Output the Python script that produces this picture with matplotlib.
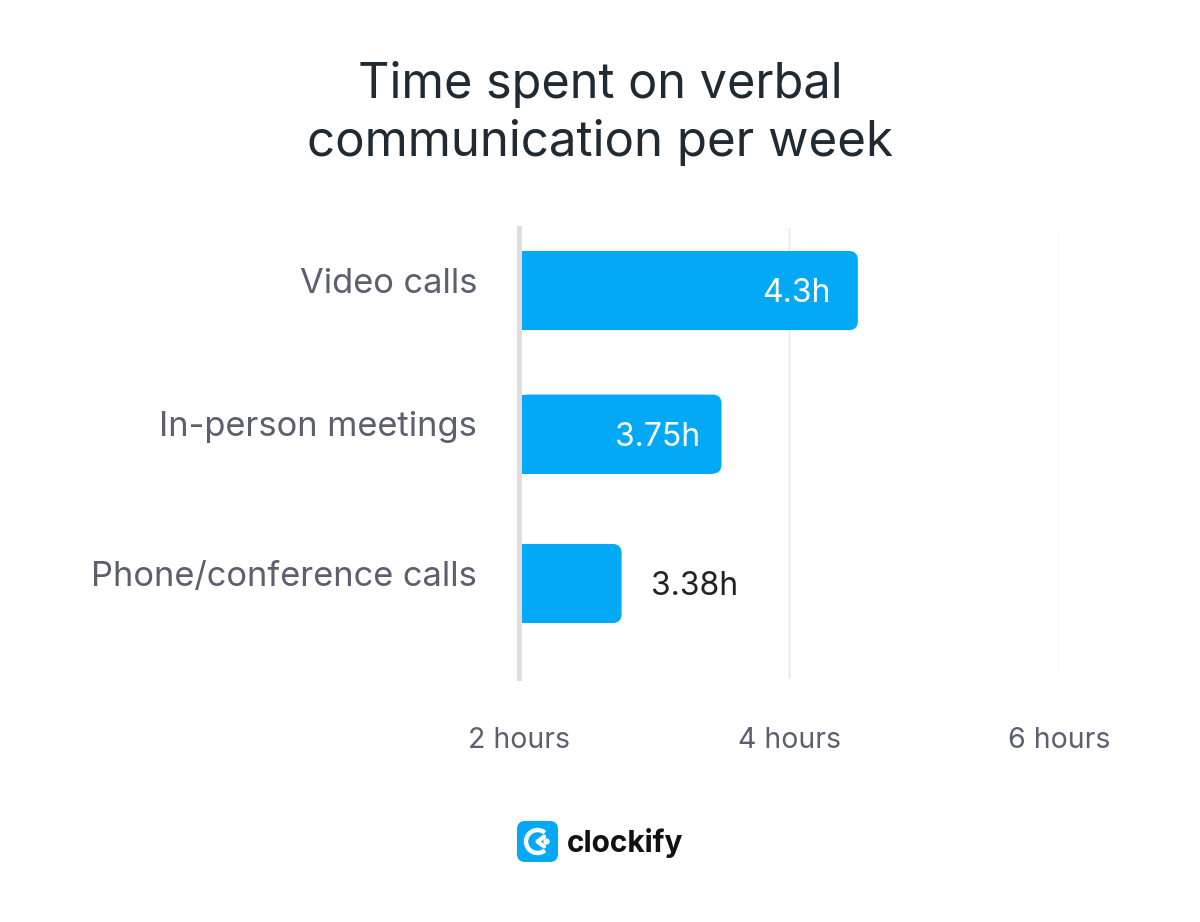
import matplotlib
matplotlib.use("Agg")
import matplotlib.pyplot as plt
from matplotlib.patches import FancyBboxPatch, Arc, Circle

plt.rcParams['font.family'] = ['Inter', 'DejaVu Sans']

# data
categories = ["Video calls", "In-person meetings", "Phone/conference calls"]
value_labels = ["4.3h", "3.75h", "3.38h"]
bar_ends = [4.51, 3.50, 2.76]   # where the bars end on the hour axis (as drawn)
tick_vals = [2, 4, 6]
tick_labels = ["2 hours", "4 hours", "6 hours"]

BLUE = "#03a9f4"
GREY_TXT = "#5d5e6e"
DARK = "#1f2a33"

W, H = 1200, 922
fig = plt.figure(figsize=(W / 100, H / 100), dpi=100)

# title
fig.text(0.5, 1 - 98 / H, "Time spent on verbal", ha="center", va="baseline",
         fontsize=35, color=DARK)
fig.text(0.5, 1 - 156 / H, "communication per week", ha="center", va="baseline",
         fontsize=35.5, color=DARK)

ax = fig.add_axes([519 / W, 1 - 678 / H, 540 / W, 450 / H])
ax.set_xlim(2, 6)
ax.set_ylim(2.645, -0.427)

ypos = [0, 0.98, 2.0]
bar_h = 0.54
r = 9 / 135.0           # corner radius in x units
aspect = 135.0 / 146.5  # y units per px / x units per px

for x in tick_vals[1:]:
    ax.axvline(x, color="#e4e4e4", lw=1, zorder=0)

for y, v, lab in zip(ypos, bar_ends, value_labels):
    ax.barh(y, v - 2 - r, left=2, height=bar_h, color=BLUE, zorder=2)
    ax.add_patch(FancyBboxPatch((2, y - bar_h / 2), v - 2, bar_h,
                                boxstyle=f"round,pad=0,rounding_size={r}",
                                mutation_aspect=aspect, fc=BLUE, ec="none",
                                zorder=2))
    if v - 2 > 1.0:
        off = 0.2 if v - 2 > 2 else 0.16
        ax.text(v - off, y + 0.02, lab, ha="right", va="center",
                fontsize=23, color="white", zorder=3)
    else:
        ax.text(v + 0.22, y + 0.02, lab, ha="left", va="center",
                fontsize=23, color="#222222", zorder=3)

# category labels sit a little above the bar centres
ax.set_yticks([y - 0.07 for y in ypos])
ax.set_yticklabels(categories, fontsize=24.8, color=GREY_TXT)
ax.tick_params(axis="y", length=0, pad=30)

ax.set_xticks(tick_vals)
ax.set_xticklabels(tick_labels, fontsize=20.5, color=GREY_TXT)
ax.tick_params(axis="x", length=0, pad=35)

for s in ["top", "right", "bottom"]:
    ax.spines[s].set_visible(False)
ax.spines["left"].set_color("#dedede")
ax.spines["left"].set_linewidth(3.6)
ax.spines["left"].set_zorder(4)

# logo
lax = fig.add_axes([517 / W, 1 - 862 / H, 41 / W, 41 / H])
lax.set_xlim(0, 1)
lax.set_ylim(0, 1)
lax.axis("off")
lax.add_patch(FancyBboxPatch((0, 0), 1, 1, boxstyle="round,pad=0,rounding_size=0.2",
                             fc=BLUE, ec="none"))
lax.add_patch(Arc((0.5, 0.5), 0.56, 0.56, theta1=50, theta2=310, color="white", lw=3.2))
lax.plot([0.66, 0.5, 0.66], [0.62, 0.5, 0.38], color="white", lw=3.0,
         solid_capstyle="round", solid_joinstyle="round")
lax.add_patch(Circle((0.72, 0.5), 0.06, color="white"))
fig.text(567 / W, 1 - 852 / H, "clockify", ha="left", va="baseline",
         fontsize=21.5, fontweight="bold", color="#111111")

fig.savefig("out.png", dpi=100, facecolor="white")
